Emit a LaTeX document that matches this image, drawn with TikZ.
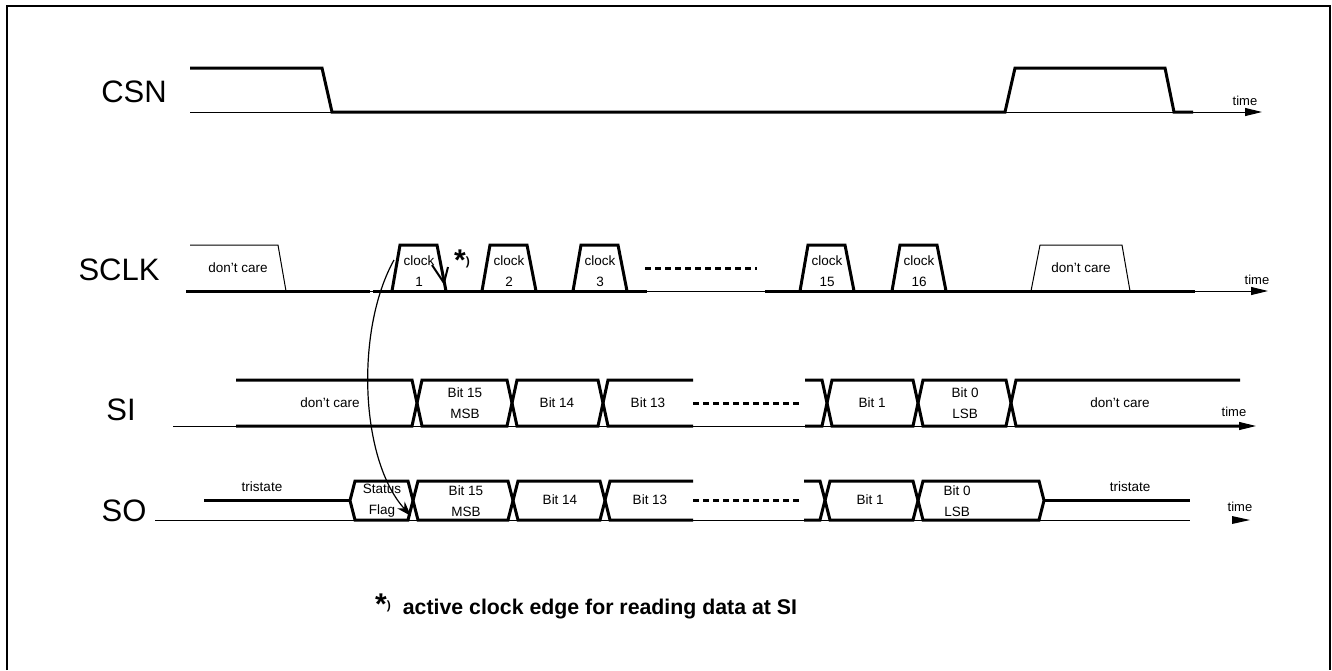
\documentclass[tikz,border=0pt]{standalone}
\usepackage{fontspec}
\setmainfont{Liberation Sans}
\usetikzlibrary{arrows.meta}
\tikzset{sig/.style={line width=3pt,line join=miter,line cap=butt},
  axis/.style={line width=1pt},
  timearrow/.style={-{Triangle[length=17pt,width=8pt]}},
  lbl/.style={font=\fontsize{13.5}{21}\selectfont,inner sep=0pt,align=center},
  tlbl/.style={font=\fontsize{13}{14}\selectfont,inner sep=0pt},
  sname/.style={font=\fontsize{31}{32}\selectfont,inner sep=0pt},
  dots/.style={line width=3pt,dash pattern=on 6pt off 4pt}}
% one bus segment: left crossing, right crossing, top, bottom
\newcommand{\busseg}[4]{\draw[sig] (#1,{(#3+#4)/2}) -- (#1+5,#3) -- (#2-5,#3) -- (#2,{(#3+#4)/2}) -- (#2-5,#4) -- (#1+5,#4) -- cycle;}
\newcommand{\starmark}[1]{{\bfseries\fontsize{#1}{#1}\selectfont *}\raisebox{5pt}{\bfseries\fontsize{12}{12}\selectfont )}}

\begin{document}
\begin{tikzpicture}[x=1pt,y=-1pt]
  \useasboundingbox (0,0) rectangle (1332,670);
  \draw[line width=2pt] (7,670) -- (7,6) -- (1330,6) -- (1330,670);

  % CSN
  \node[sname] (csn) at (134,92) {CSN};
  \draw[axis,timearrow] (190,112) -- (1262,112);
  \draw[sig] (190,68) -- (322,68) -- (332,112) -- (1005,112) -- (1015,68) -- (1165,68) -- (1174,112) -- (1193,112);
  \node[tlbl] (csntime) at (1245,101) {time};

  % SCLK
  \node[sname] (sclk) at (119,270) {SCLK};
  \draw[axis,timearrow] (186,291) -- (1268,291);
  \draw[axis] (190,245) -- (278,245) -- (286,291);
  \draw[axis] (1031,291) -- (1040,245) -- (1122,245) -- (1130,291);
  \node[lbl] (sclkdc1) at (238,268) {don't care};
  \node[lbl] (sclkdc2) at (1081,268) {don't care};
  \draw[sig] (186,291) -- (370,291);
  \draw[sig] (373,291) -- (647,291);
  \draw[sig] (765,291) -- (1195,291);
  \foreach \x/\n in {392/1,482/2,573/3,800/15,892/16} {
    \draw[sig] (\x,291) -- (\x+8,245) -- (\x+45,245) -- (\x+54,291);
    \node[lbl] (clk\n) at (\x+27,271) {clock\\\n};
  }
  \draw[dots] (645,268) -- (757,268);
  \draw[line width=2pt] (432,265) -- (444,283) -- (448,267);
  \node[inner sep=0pt] (star) at (462,260) {\starmark{30}};
  \node[tlbl] (sclktime) at (1257,280) {time};

  % SI
  \node[sname] (si) at (121,410) {SI};
  \draw[axis,timearrow] (173,426) -- (1256,426);
  \draw[sig] (236,380) -- (412,380) -- (417,403) -- (412,426) -- (236,426);
  \busseg{417}{512}{380}{426}
  \busseg{512}{603}{380}{426}
  \draw[sig] (693,380) -- (608,380) -- (603,403) -- (608,426) -- (693,426);
  \draw[sig] (805,380) -- (822,380) -- (827,403) -- (822,426) -- (805,426);
  \busseg{827}{918}{380}{426}
  \busseg{918}{1011}{380}{426}
  \draw[sig] (1240,380) -- (1016,380) -- (1011,403) -- (1016,426) -- (1240,426);
  \draw[dots] (693,403) -- (800,403);
  \node[lbl] (sidc1) at (330,403) {don't care};
  \node[lbl] (sib15) at (465,403) {Bit 15\\MSB};
  \node[lbl] (sib14) at (557,403) {Bit 14};
  \node[lbl] (sib13) at (648,403) {Bit 13};
  \node[lbl] (sib1) at (872,403) {Bit 1};
  \node[lbl] (sib0) at (965,403) {Bit 0\\LSB};
  \node[lbl] (sidc2) at (1120,403) {don't care};
  \node[tlbl] (sitime) at (1234,412) {time};

  % SO
  \node[sname] (so) at (124,511) {SO};
  \draw[axis] (155,520) -- (1190,520);
  \fill (1232,516) -- (1250,520) -- (1232,524) -- cycle;
  \draw[sig] (204,500) -- (350,500);
  \busseg{350}{413}{481}{520}
  \busseg{413}{513}{481}{520}
  \busseg{513}{605}{481}{520}
  \draw[sig] (693,481) -- (610,481) -- (605,500) -- (610,520) -- (693,520);
  \draw[sig] (804,481) -- (820,481) -- (825,500) -- (820,520) -- (804,520);
  \busseg{825}{918}{481}{520}
  \busseg{918}{1044}{481}{520}
  \draw[sig] (1044,500) -- (1190,500);
  \draw[dots] (693,500) -- (800,500);
  \node[lbl] (sotri1) at (262,487) {tristate};
  \node[lbl] (sotri2) at (1130,487) {tristate};
  \node[lbl] (sosf) at (382,501) {Status\\Flag};
  \node[lbl] (sob15) at (466,501) {Bit 15\\MSB};
  \node[lbl] (sob14) at (560,500) {Bit 14};
  \node[lbl] (sob13) at (650,500) {Bit 13};
  \node[lbl] (sob1) at (870,500) {Bit 1};
  \node[lbl] (sob0) at (957,501) {Bit 0\\LSB};
  \node[tlbl] (sotime) at (1240,507) {time};

  % clock edge to status flag
  \coordinate (clkedge) at (394,260);
  \coordinate (sfedge) at (411,516);
  \draw[line width=1.2pt,-{Stealth[length=15pt,width=10pt]}] (clkedge) .. controls (355,330) and (360,460) .. (sfedge);

  \node[anchor=west,inner sep=0pt] (note) at (375,606) {\starmark{30}\hspace{12pt}{\bfseries\fontsize{21.3}{22}\selectfont active clock edge for reading data at SI}};
\end{tikzpicture}
\end{document}
